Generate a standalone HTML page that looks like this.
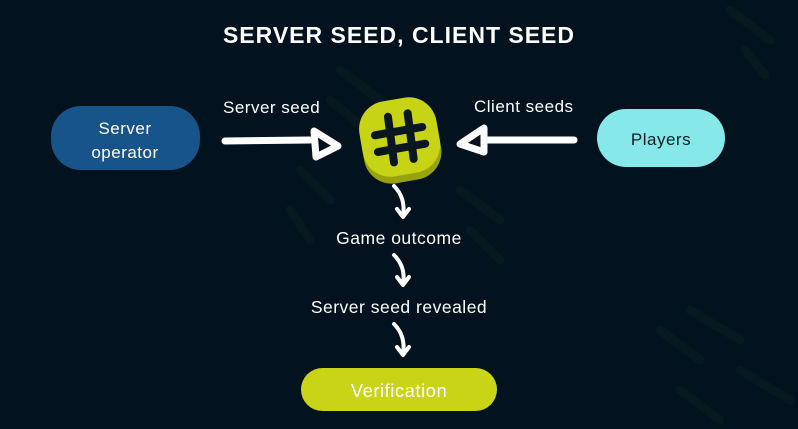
<!DOCTYPE html>
<html><head><meta charset="utf-8"><style>
body{margin:0;background:#02121f;}
svg{display:block}
text{font-family:"Liberation Sans",sans-serif;letter-spacing:0.5px}
</style></head><body>
<svg width="798" height="429" viewBox="0 0 798 429" xmlns="http://www.w3.org/2000/svg">
<rect width="798" height="429" fill="#02121f"/>
<g stroke="#06191f" stroke-width="9" stroke-linecap="round">
<line x1="340" y1="70" x2="380" y2="100"/><line x1="330" y1="100" x2="360" y2="125"/>
<line x1="300" y1="170" x2="330" y2="200"/><line x1="290" y1="210" x2="310" y2="240"/>
<line x1="460" y1="190" x2="500" y2="220"/><line x1="470" y1="230" x2="500" y2="260"/>
<line x1="730" y1="10" x2="770" y2="40"/><line x1="745" y1="50" x2="765" y2="75"/>
<line x1="660" y1="330" x2="700" y2="360"/><line x1="690" y1="310" x2="740" y2="340"/>
<line x1="740" y1="370" x2="790" y2="400"/><line x1="680" y1="390" x2="720" y2="420"/>
</g>
<text x="399" y="43" text-anchor="middle" fill="#fff" font-size="23" font-weight="bold" style="letter-spacing:1px">SERVER SEED, CLIENT SEED</text>
<rect x="51" y="106" width="149" height="64" rx="30" fill="#175489"/>
<text x="125" y="134" text-anchor="middle" fill="#fff" font-size="17">Server</text>
<text x="125" y="158" text-anchor="middle" fill="#fff" font-size="17">operator</text>
<rect x="597" y="109" width="128" height="58" rx="29" fill="#86e8e8"/>
<text x="661" y="145" text-anchor="middle" fill="#0b1e2a" font-size="17">Players</text>
<text x="223" y="113" fill="#fff" font-size="17">Server seed</text>
<text x="474" y="112" fill="#fff" font-size="17">Client seeds</text>
<g stroke="#fff" stroke-width="7" stroke-linecap="round" stroke-linejoin="round" fill="none">
<line x1="225" y1="141" x2="310" y2="140"/>
<path d="M314 131 L338 146 L316 157 Z" stroke-width="7"/>
<line x1="574" y1="140" x2="486" y2="140"/>
<path d="M484 128 L460 144 L484 152 Z" stroke-width="7"/>
</g>
<g stroke="#fff" stroke-width="4" stroke-linecap="round" stroke-linejoin="round" fill="none">
<path d="M394 186 Q406 198 403 216"/><path d="M397 209 L403 217 L409 209"/>
<path d="M394 255 Q406 267 403 284"/><path d="M397 277 L403 285 L409 277"/>
<path d="M394 324 Q406 336 403 354"/><path d="M397 347 L403 355 L409 347"/>
</g>
<text x="399" y="244" text-anchor="middle" fill="#fff" font-size="17.5">Game outcome</text>
<text x="399" y="313" text-anchor="middle" fill="#fff" font-size="17.5">Server seed revealed</text>
<rect x="301" y="368" width="196" height="43" rx="21.5" fill="#c9d416"/>
<text x="399" y="397" text-anchor="middle" fill="#fff" font-size="18.5">Verification</text>
<g transform="translate(400,139) rotate(-10)">
<rect x="-39" y="-35" width="78" height="78" rx="28" fill="#98a30c"/>
<rect x="-39" y="-40" width="78" height="76" rx="28" fill="#c7d416"/>
<g stroke="#0b1720" stroke-width="8" stroke-linecap="round">
<line x1="-8" y1="-24" x2="-10" y2="22"/><line x1="12" y1="-24" x2="10" y2="22"/>
<line x1="-24" y1="-8" x2="24" y2="-8"/><line x1="-24" y1="9" x2="24" y2="9"/>
</g>
</g>
</svg>
</body></html>
